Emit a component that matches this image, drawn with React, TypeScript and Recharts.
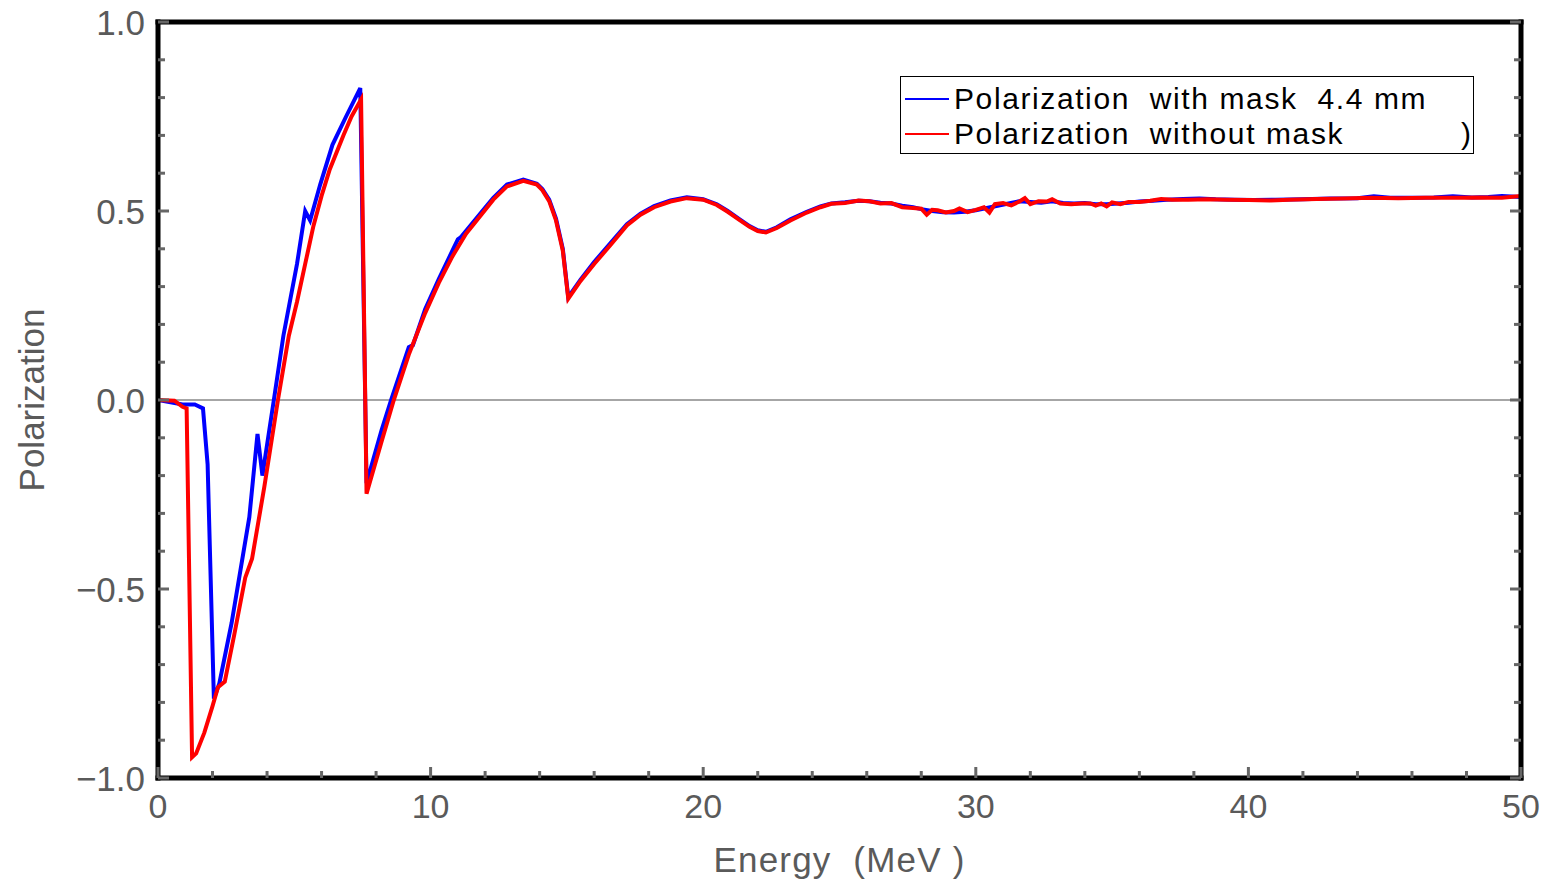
import React from 'react';
import { LineChart, Line, XAxis, YAxis, ReferenceLine, Legend } from 'recharts';

// Energy (MeV) and polarization, with mask 4.4 mm (blue)
const energyWithMask = [
  0, 0.9, 1.35, 1.65, 1.82, 2.05, 2.25, 2.7, 3.35, 3.65, 3.83, 4.25, 4.6, 5.1, 5.4, 5.58, 5.95, 6.4, 6.9, 7.42,
  7.65, 8.2, 8.55, 9.2, 9.35, 9.8, 10.3, 10.8, 11.0, 11.1, 11.5, 11.9, 12.3, 12.8, 13.4, 13.9, 14.1, 14.35, 14.6, 14.85, 15.05,
  15.5, 16.0, 16.6, 17.2, 17.7, 18.2, 18.8, 19.4, 20.0, 20.5, 20.9, 21.3, 21.7, 22.0, 22.3, 22.7, 23.2, 23.8, 24.3, 24.7,
  25.2, 25.7, 26.1, 26.5, 26.9, 27.3, 27.7, 28.0, 28.4, 28.8, 29.2, 29.6, 30.0, 30.4, 30.8, 31.2, 31.6, 32.0, 32.4, 32.8,
  33.2, 33.6, 34.0, 34.4, 34.8, 35.2, 35.6, 36.0, 36.5, 37.0, 37.6, 38.2, 38.8, 39.5, 40.2, 41.0, 42.0, 43.0, 44.0, 44.6,
  45.2, 46.0, 46.8, 47.5, 48.2, 48.8, 49.3, 50,
];
const polWithMask = [
  0, -0.012, -0.012, -0.022, -0.17, -0.79, -0.75, -0.59, -0.31, -0.09, -0.2, 0, 0.17, 0.36, 0.5, 0.475, 0.57, 0.675, 0.75, 0.825,
  -0.22, -0.08, 0.0, 0.14, 0.145, 0.24, 0.32, 0.395, 0.425, 0.43, 0.465, 0.5, 0.535, 0.57, 0.583, 0.572, 0.558, 0.53, 0.48, 0.4, 0.272,
  0.318, 0.365, 0.415, 0.465, 0.493, 0.513, 0.528, 0.536, 0.531, 0.518, 0.5, 0.48, 0.46, 0.449, 0.445, 0.457, 0.478, 0.498, 0.512, 0.52,
  0.523, 0.527, 0.526, 0.522, 0.52, 0.514, 0.51, 0.505, 0.5, 0.497, 0.496, 0.498, 0.502, 0.508, 0.514, 0.52, 0.526, 0.524, 0.522, 0.526,
  0.521, 0.52, 0.521, 0.518, 0.518, 0.52, 0.522, 0.525, 0.527, 0.53, 0.532, 0.533, 0.531, 0.53, 0.529, 0.53, 0.531, 0.533, 0.534, 0.539,
  0.535, 0.535, 0.536, 0.539, 0.536, 0.537, 0.54, 0.537,
];

// Energy (MeV) and polarization, without mask (red)
const energyNoMask = [
  0, 0.6, 0.9, 1.05, 1.25, 1.4, 1.7, 2.0, 2.2, 2.45, 2.8, 3.2, 3.45, 3.9, 4.4, 4.8, 5.1, 5.4, 5.7, 6.0,
  6.3, 6.8, 7.1, 7.45, 7.65, 8.2, 8.65, 9.2, 9.8, 10.3, 10.8, 11.3, 11.8, 12.3, 12.8, 13.4, 13.9, 14.1, 14.35, 14.6, 14.85,
  15.05, 15.5, 16.0, 16.6, 17.2, 17.7, 18.2, 18.8, 19.4, 20.0, 20.5, 20.9, 21.3, 21.7, 22.0, 22.3, 22.7, 23.2, 23.8, 24.3,
  24.7, 25.2, 25.7, 26.1, 26.5, 26.9, 27.3, 27.7, 28.0, 28.2, 28.4, 28.6, 28.9, 29.2, 29.4, 29.7, 30.0, 30.3, 30.5, 30.7,
  31.0, 31.3, 31.6, 31.8, 32.0, 32.3, 32.6, 32.8, 33.1, 33.5, 33.9, 34.2, 34.4, 34.6, 34.8, 35.0, 35.3, 35.6, 36.0, 36.4,
  36.8, 37.2, 37.8, 38.5, 39.2, 40.0, 40.8, 41.5, 42.5, 43.5, 44.5, 45.5, 46.5, 47.5, 48.5, 49.3, 50,
];
const polNoMask = [
  0, -0.002, -0.018, -0.022, -0.945, -0.935, -0.88, -0.81, -0.76, -0.745, -0.62, -0.47, -0.42, -0.23, 0.0, 0.17, 0.26, 0.36, 0.46, 0.54,
  0.61, 0.7, 0.75, 0.795, -0.248, -0.11, 0.0, 0.12, 0.23, 0.31, 0.38, 0.44, 0.485, 0.53, 0.565, 0.58, 0.57, 0.555, 0.526, 0.475, 0.395,
  0.268, 0.315, 0.36, 0.41, 0.462, 0.49, 0.51, 0.525, 0.534, 0.53, 0.516, 0.498, 0.478, 0.458, 0.447, 0.443, 0.455, 0.475, 0.496, 0.51,
  0.519, 0.521, 0.528, 0.526, 0.52, 0.521, 0.51, 0.508, 0.506, 0.49, 0.503, 0.502, 0.496, 0.5, 0.507, 0.497, 0.503, 0.51, 0.496, 0.518,
  0.521, 0.515, 0.525, 0.534, 0.518, 0.526, 0.525, 0.531, 0.52, 0.518, 0.52, 0.52, 0.514, 0.52, 0.512, 0.523, 0.518, 0.524, 0.524, 0.527,
  0.532, 0.53, 0.53, 0.531, 0.53, 0.529, 0.528, 0.53, 0.532, 0.533, 0.535, 0.534, 0.535, 0.535, 0.536, 0.535, 0.54,
];

const xTicks = [0, 2, 4, 6, 8, 10, 12, 14, 16, 18, 20, 22, 24, 26, 28, 30, 32, 34, 36, 38, 40, 42, 44, 46, 48, 50];
const yTicks = [-1, -0.9, -0.8, -0.7, -0.6, -0.5, -0.4, -0.3, -0.2, -0.1, 0, 0.1, 0.2, 0.3, 0.4, 0.5, 0.6, 0.7, 0.8, 0.9, 1];

const dataWithMask = energyWithMask.map((e, i) => ({ x: e, y: polWithMask[i] }));
const dataNoMask = energyNoMask.map((e, i) => ({ x: e, y: polNoMask[i] }));

const FONT = '"Liberation Sans", Arial, sans-serif';
const TICK_COLOR = '#666';
const LABEL_COLOR = '#5a5a5a';

const isMajorX = (v: number) => Math.abs(v % 10) < 1e-6;
const isMajorY = (v: number) => Math.abs(v * 2 - Math.round(v * 2)) < 1e-6;
const fmtY = (v: number) => (v < -1e-9 ? '\u2212' + Math.abs(v).toFixed(1) : Math.abs(v).toFixed(1));

const BottomTick = (props: any) => {
  const { x, y, payload } = props;
  const major = isMajorX(payload.value);
  return (
    <g>
      <line x1={x} x2={x} y1={y} y2={y - (major ? 11 : 7)} stroke={TICK_COLOR} strokeWidth={3} />
      {major && (
        <text x={x} y={y + 28} textAnchor="middle" dominantBaseline="central" fontSize={34} fill={LABEL_COLOR} fontFamily={FONT}>
          {payload.value}
        </text>
      )}
    </g>
  );
};
const TopTick = (props: any) => {
  const { x, y, payload } = props;
  const major = isMajorX(payload.value);
  return <line x1={x} x2={x} y1={y} y2={y + (major ? 11 : 7)} stroke={TICK_COLOR} strokeWidth={3} />;
};
const LeftTick = (props: any) => {
  const { x, y, payload } = props;
  const major = isMajorY(payload.value);
  return (
    <g>
      <line x1={x} x2={x + (major ? 11 : 7)} y1={y} y2={y} stroke={TICK_COLOR} strokeWidth={3} />
      {major && (
        <text x={x - 13} y={y} textAnchor="end" dominantBaseline="central" fontSize={35} fill={LABEL_COLOR} fontFamily={FONT}>
          {fmtY(payload.value)}
        </text>
      )}
    </g>
  );
};
const RightTick = (props: any) => {
  const { x, y, payload } = props;
  const major = isMajorY(payload.value);
  return <line x1={x} x2={x - (major ? 11 : 7)} y1={y} y2={y} stroke={TICK_COLOR} strokeWidth={3} />;
};

const LegendBox = (props: any) => {
  const items = props.payload || [];
  return (
    <div
      style={{
        width: 572,
        height: 76,
        border: '1.5px solid #000',
        background: '#fff',
        fontFamily: FONT,
        fontSize: 30,
        letterSpacing: 1.6,
        color: '#000',
        position: 'relative',
        boxSizing: 'content-box',
      }}
    >
      {items.map((it: any, i: number) => (
        <div key={i} style={{ position: 'absolute', left: 4, top: 4 + i * 35, height: 35, display: 'flex', alignItems: 'center', whiteSpace: 'pre' }}>
          <svg width={44} height={4} style={{ marginRight: 5 }}>
            <line x1={0} x2={44} y1={2} y2={2} stroke={it.color} strokeWidth={2} />
          </svg>
          <span>{it.value}</span>
        </div>
      ))}
      <span style={{ position: 'absolute', left: 560, top: 39, height: 35, lineHeight: '35px' }}>)</span>
    </div>
  );
};

export default function App() {
  return (
    <div style={{ position: 'absolute', left: 0, top: 0, width: 1546, height: 879, background: '#fff' }}>
      <LineChart width={1546} height={879} margin={{ top: 20, right: 23, bottom: 0, left: 0 }}>
        <XAxis
          dataKey="x"
          type="number"
          domain={[0, 50]}
          ticks={xTicks}
          interval={0}
          allowDataOverflow
          height={101}
          tickSize={0}
          tickMargin={0}
          tickLine={false}
          axisLine={{ stroke: '#000', strokeWidth: 5, strokeLinecap: 'square' }}
          tick={<BottomTick />}
          label={(p: any) => {
            const vb = p.viewBox;
            return (
              <text
                x={vb.x + vb.width / 2}
                y={vb.y + 81}
                textAnchor="middle"
                dominantBaseline="central"
                fontSize={35}
                letterSpacing={1.2}
                fill={LABEL_COLOR}
                fontFamily={FONT}
              >
                {'Energy\u00a0\u00a0(MeV\u00a0)'}
              </text>
            );
          }}
        />
        <XAxis
          xAxisId="top"
          orientation="top"
          type="number"
          domain={[0, 50]}
          ticks={xTicks}
          interval={0}
          allowDataOverflow
          height={2}
          tickSize={0}
          tickMargin={0}
          tickLine={false}
          axisLine={{ stroke: '#000', strokeWidth: 5, strokeLinecap: 'square' }}
          tick={<TopTick />}
        />
        <YAxis
          type="number"
          domain={[-1, 1]}
          ticks={yTicks}
          interval={0}
          allowDataOverflow
          width={158}
          tickSize={0}
          tickMargin={0}
          tickLine={false}
          axisLine={{ stroke: '#000', strokeWidth: 5, strokeLinecap: 'square' }}
          tick={<LeftTick />}
          label={(p: any) => {
            const vb = p.viewBox;
            const cx = vb.x + 31;
            const cy = vb.y + vb.height / 2;
            return (
              <text
                x={cx}
                y={cy}
                textAnchor="middle"
                dominantBaseline="central"
                fontSize={35}
                fill={LABEL_COLOR}
                fontFamily={FONT}
                transform={`rotate(-90 ${cx} ${cy})`}
              >
                Polarization
              </text>
            );
          }}
        />
        <YAxis
          yAxisId="right"
          orientation="right"
          type="number"
          domain={[-1, 1]}
          ticks={yTicks}
          interval={0}
          allowDataOverflow
          width={2}
          tickSize={0}
          tickMargin={0}
          tickLine={false}
          axisLine={{ stroke: '#000', strokeWidth: 5, strokeLinecap: 'square' }}
          tick={<RightTick />}
        />
        <ReferenceLine y={0} stroke="#888" strokeWidth={1.5} />
        <Line
          data={dataWithMask}
          dataKey="y"
          name={'Polarization\u00a0\u00a0with mask\u00a0\u00a04.4 mm'}
          type="linear"
          stroke="#0000ff"
          strokeWidth={4}
          dot={false}
          activeDot={false}
          isAnimationActive={false}
        />
        <Line
          data={dataNoMask}
          dataKey="y"
          name={'Polarization\u00a0\u00a0without mask'}
          type="linear"
          stroke="#ff0000"
          strokeWidth={4}
          dot={false}
          activeDot={false}
          isAnimationActive={false}
        />
        <Legend
          layout="horizontal"
          verticalAlign="middle"
          align="center"
          content={<LegendBox />}
          wrapperStyle={{ position: 'absolute', left: 900, top: 76, width: 575, height: 79 }}
        />
      </LineChart>
    </div>
  );
}
